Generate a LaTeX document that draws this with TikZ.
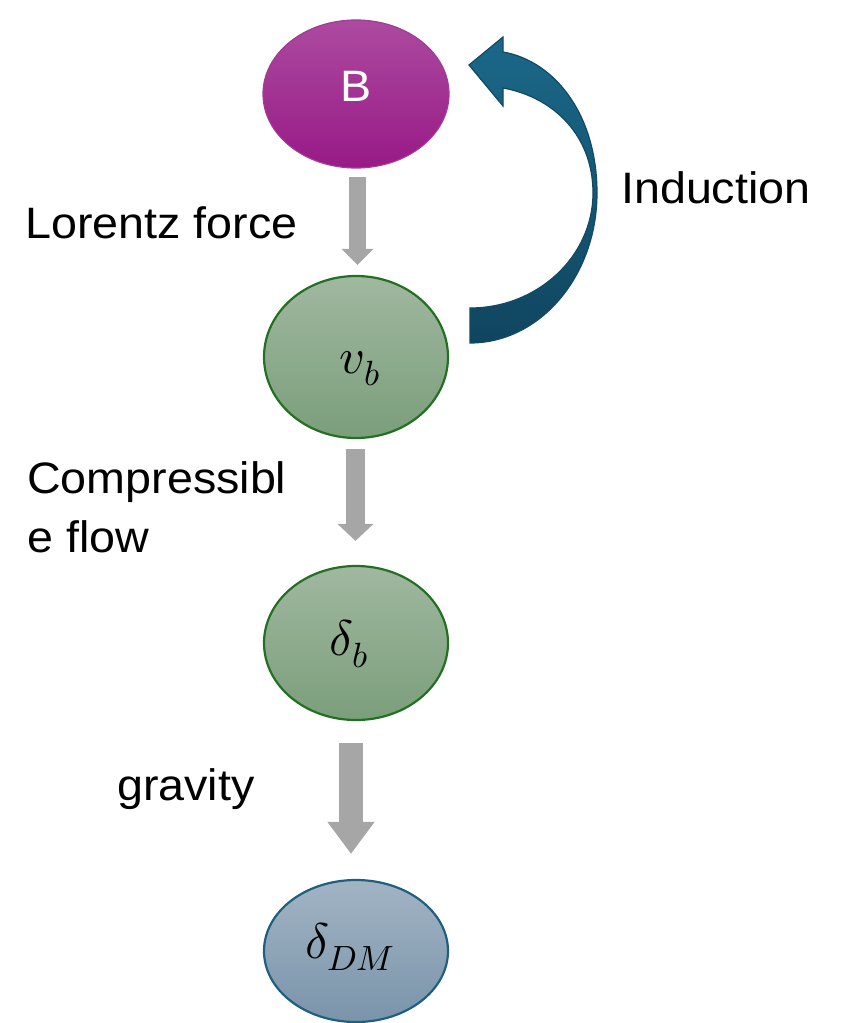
\documentclass[tikz,border=0pt]{standalone}
\usepackage{fontspec}
\usepackage{unicode-math}
\setmainfont{Liberation Sans}[FakeStretch=1.06]
\setmathfont{Latin Modern Math}
\usetikzlibrary{shapes.geometric,arrows.meta,calc}
\definecolor{Btop}{HTML}{AC4AA0}
\definecolor{Bbot}{HTML}{981A86}
\definecolor{Bline}{HTML}{A23A96}
\definecolor{Gtop}{HTML}{A0B8A0}
\definecolor{Gbot}{HTML}{7B9E7B}
\definecolor{Gline}{HTML}{237023}
\definecolor{Dtop}{HTML}{A2B4C4}
\definecolor{Dbot}{HTML}{7A94AA}
\definecolor{Dline}{HTML}{1F6080}
\definecolor{Ctop}{HTML}{1B6889}
\definecolor{Cbot}{HTML}{10455F}
\definecolor{Cline}{HTML}{114A66}
\definecolor{arrowgray}{HTML}{A6A6A6}
\tikzset{
  bubble/.style={ellipse, inner sep=0pt, minimum width=184, line width=2.2pt},
  labeltext/.style={font=\fontsize{44}{50}\selectfont, inner sep=0pt, anchor=base west},
  mathtext/.style={font=\fontsize{50}{60}\selectfont, inner sep=0pt, anchor=base},
  garrow/.style={draw=arrowgray, line cap=butt},
}
\begin{document}
\begin{tikzpicture}[x=1pt,y=-1pt]
\useasboundingbox (0,0) rectangle (841,1023);
% nodes
\node[bubble, minimum width=186, minimum height=148, top color=Btop, bottom color=Bbot, draw=Bline, line width=1.2pt] (B) at (356,94) {};
\node[font=\fontsize{44}{50}\selectfont, text=white, inner sep=0pt, anchor=base] (Btxt) at (356,101) {B};
\node[bubble, minimum height=162, top color=Gtop, bottom color=Gbot, draw=Gline] (vb) at (356,357) {};
\node[mathtext] (vbtxt) at (360,373) {$v_b$};
\node[bubble, minimum height=154, top color=Gtop, bottom color=Gbot, draw=Gline] (db) at (356,643) {};
\node[mathtext] (dbtxt) at (349,655) {$\delta_b$};
\node[bubble, minimum height=142, top color=Dtop, bottom color=Dbot, draw=Dline] (dm) at (356,951) {};
\node[mathtext] (dmtxt) at (350,958) {$\delta_{DM}$};
% gray arrows
\draw[garrow, line width=17pt, -{Triangle[width=31pt,length=16pt]}]
  ([xshift=1.5pt,yshift=-8pt]B.south) -- ([xshift=1.5pt,yshift=10pt]vb.north);
\draw[garrow, line width=19pt, -{Triangle[width=35pt,length=17pt]}]
  ([xshift=-0.5pt,yshift=-10pt]vb.south) -- ([xshift=-0.5pt,yshift=24pt]db.north);
\draw[garrow, line width=24pt, -{Triangle[width=45pt,length=32pt]}]
  ([xshift=-5pt,yshift=-22pt]db.south) -- ([xshift=-5pt,yshift=25pt]dm.north);
% curved induction arrow
\draw[top color=Ctop, bottom color=Cbot, draw=Cline, line width=1.2pt, line join=miter]
  (470,343) .. controls (540,343) and (597,276) .. (597,193)
  .. controls (597,115) and (555,61) .. (503,52)
  -- (503,37) -- (469,65) -- (503,106) -- (503,88)
  .. controls (553,97) and (593,135) .. (593,193)
  .. controls (593,256) and (538,308) .. (470,308) -- cycle;
% labels
\node[labeltext] (lorentz) at (25,238) {Lorentz force};
\node[labeltext] (induction) at (621,203) {Induction};
\node[labeltext] (comp1) at (27,493) {Compressibl};
\node[labeltext] (comp2) at (27,552) {e flow};
\node[labeltext] (grav) at (117,800) {gravity};
\end{tikzpicture}
\end{document}
